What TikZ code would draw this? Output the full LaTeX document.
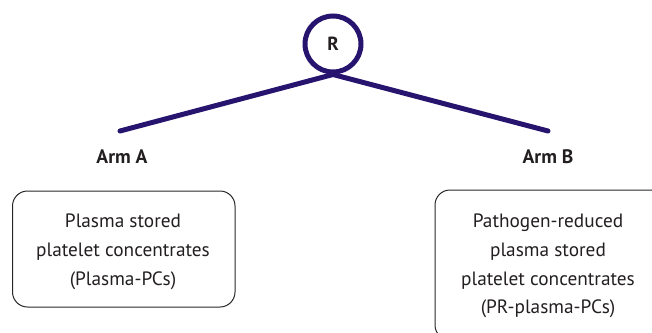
\documentclass[tikz,border=0pt]{standalone}
\usepackage{fontspec}
\setmainfont{PT Sans}
\definecolor{navy}{RGB}{38,20,110}
\definecolor{boxgray}{RGB}{40,40,40}
\definecolor{txt}{RGB}{35,31,32}
\begin{document}
\begin{tikzpicture}[x=1pt,y=-1pt,
  armline/.style={draw=navy,line width=5pt,line cap=round},
  armlabel/.style={font=\fontsize{19.5}{22}\selectfont\bfseries,text=txt,inner sep=0pt},
  boxtext/.style={font=\fontsize{19.3}{28.8}\selectfont,text=txt,align=center,inner sep=0pt},
  roundbox/.style={draw=boxgray,line width=1pt,rounded corners=15pt}]
\useasboundingbox (0,0) rectangle (652,332);
\clip (0,0) rectangle (652,332);
\node[circle,draw=navy,line width=5pt,minimum size=56pt,inner sep=0pt,
      font=\fontsize{19}{22}\selectfont\bfseries,text=txt] (R) at (333,44) {R};
\coordinate (aend) at (120,131);
\coordinate (bend) at (548,131);
\draw[armline] (R.south) -- (aend);
\draw[armline] (R.south) -- (bend);
\node[armlabel] (armA) at (122,157) {Arm A};
\node[armlabel] (armB) at (548,157) {Arm B};
\draw[roundbox] (12.5,191) rectangle (235,307);
\node[boxtext] (ta) at (123,252) {Plasma stored\\platelet concentrates\\(Plasma-PCs)};
\draw[roundbox] (435,190) rectangle (690,340);
\node[boxtext] (tb) at (548,266) {Pathogen-reduced\\plasma stored\\platelet concentrates\\(PR-plasma-PCs)};
\end{tikzpicture}
\end{document}
